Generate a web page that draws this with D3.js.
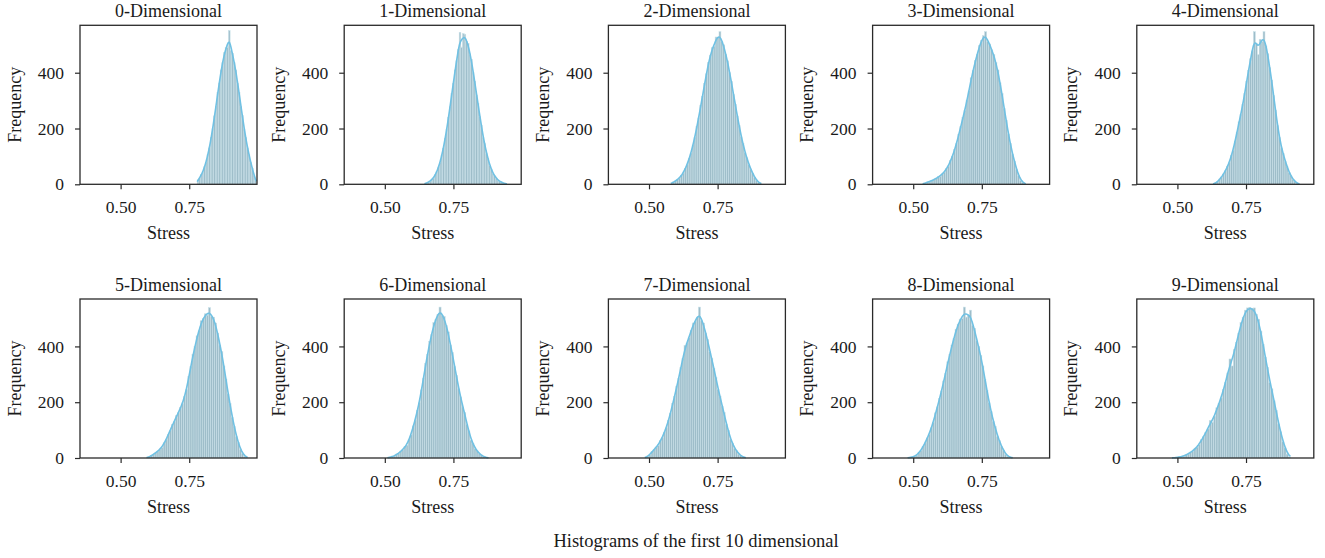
<!DOCTYPE html>
<html>
<head>
<meta charset="utf-8">
<script src="https://cdn.jsdelivr.net/npm/d3@7"></script>
<style>
  html, body { margin: 0; padding: 0; background: #ffffff; }
  svg text { font-family: "Liberation Serif", "Times New Roman", serif; fill: #1a1a1a; }
</style>
</head>
<body>
<svg id="chart" width="1325" height="558"></svg>
<script>
// Panel titles
const panelTitles = [
  "0-Dimensional", "1-Dimensional", "2-Dimensional", "3-Dimensional", "4-Dimensional",
  "5-Dimensional", "6-Dimensional", "7-Dimensional", "8-Dimensional", "9-Dimensional"
];

// Left edge of the first bin and bin width for each histogram
const binStarts = [0.779, 0.645, 0.580, 0.535, 0.630, 0.595, 0.510, 0.485, 0.480, 0.480];
const binWidths = [0.006, 0.006, 0.007, 0.0075, 0.007, 0.0075, 0.0075, 0.0075, 0.0075, 0.008];

// Bin counts (frequency of stress values) per dimension
const counts0 = [16, 22, 35, 43, 63, 79, 107, 130, 168, 199, 245, 280, 330, 363, 410, 436, 472, 490, 493, 551,
  480, 470, 436, 410, 362, 330, 280, 246, 198, 168, 130, 106, 78, 58, 32, 14];
const counts1 = [3, 5, 9, 11, 18, 22, 34, 45, 62, 78, 105, 129, 165, 196, 240, 278, 325, 362, 410, 443,
  483, 545, 492, 540, 538, 512, 505, 468, 448, 400, 370, 320, 290, 243, 212, 168, 146, 110, 93, 68,
  55, 38, 31, 21, 16, 10, 8, 5, 3, 2];
const counts2 = [5, 8, 12, 18, 22, 32, 40, 57, 70, 92, 112, 141, 168, 208, 238, 284, 315, 362, 396, 437,
  463, 490, 495, 528, 526, 547, 512, 500, 466, 443, 400, 369, 322, 287, 245, 210, 170, 146, 113, 95,
  70, 55, 40, 25, 14, 7, 3];
const counts3 = [3, 4, 9, 10, 13, 18, 20, 27, 29, 37, 43, 56, 64, 85, 100, 124, 146, 180, 207, 240,
  265, 302, 335, 382, 408, 444, 466, 498, 516, 533, 547, 512, 503, 482, 466, 436, 410, 364, 325, 272,
  230, 180, 146, 108, 83, 53, 31, 13, 6, 1];
const counts4 = [1, 5, 9, 19, 26, 37, 48, 64, 77, 103, 122, 155, 187, 224, 250, 287, 325, 370, 409, 450,
  478, 547, 505, 465, 520, 512, 547, 496, 468, 418, 374, 318, 266, 210, 168, 130, 110, 82, 65, 42,
  31, 18, 11, 4, 1];
const counts5 = [2, 4, 10, 13, 20, 24, 32, 37, 54, 65, 85, 98, 121, 130, 152, 162, 182, 194, 220, 245,
  293, 328, 372, 400, 438, 456, 492, 500, 517, 512, 539, 508, 505, 484, 448, 405, 382, 330, 283, 230,
  195, 146, 114, 77, 55, 30, 16, 6, 2];
const counts6 = [1, 3, 6, 7, 14, 17, 25, 29, 41, 46, 67, 83, 115, 136, 171, 198, 244, 286, 338, 372,
  418, 442, 486, 496, 515, 541, 512, 508, 475, 452, 405, 378, 328, 296, 248, 219, 183, 163, 121, 97,
  64, 52, 33, 26, 15, 11, 5, 2, 1];
const counts7 = [2, 5, 11, 24, 30, 39, 44, 62, 72, 92, 108, 135, 160, 195, 220, 258, 286, 324, 357, 404,
  412, 431, 458, 484, 490, 503, 541, 492, 484, 448, 425, 381, 358, 322, 288, 246, 222, 186, 163, 121,
  99, 67, 53, 34, 26, 14, 9, 3, 1];
const counts8 = [1, 2, 3, 7, 10, 18, 27, 41, 54, 72, 85, 108, 127, 162, 183, 214, 240, 276, 304, 345,
  372, 405, 428, 462, 480, 498, 500, 541, 505, 512, 530, 476, 465, 420, 400, 368, 330, 282, 243, 198,
  166, 131, 113, 77, 62, 41, 28, 13, 6, 2, 1];
const counts9 = [0, 1, 2, 4, 5, 6, 12, 14, 21, 24, 33, 39, 48, 66, 76, 92, 104, 135, 128, 150,
  180, 195, 215, 245, 270, 305, 355, 330, 390, 415, 448, 486, 505, 530, 538, 540, 536, 538, 515, 497,
  455, 408, 362, 325, 270, 248, 205, 170, 122, 94, 58, 36, 14, 3];

const allCounts = [counts0, counts1, counts2, counts3, counts4, counts5, counts6, counts7, counts8, counts9];

// Axis ticks and shared domains
const xTicks = [0.50, 0.75];
const yTicks = [0, 200, 400];
const xDomain = [0.352, 0.997];
const yDomain = [0, 570];

const captionText = "Histograms of the first 10 dimensional";

// ---- layout ----
const plotW = 177;
const colLefts = [80, 344.2, 608.4, 872.6, 1136.8];
const rowTops = [25.3, 299];
const plotH = 159;

const barFill = "#9ebdc9";
const barEdge = "#c9e1e9";
const kdeColor = "#70c1e3";
const frameColor = "#2a2a2a";

const svg = d3.select("#chart");

allCounts.forEach((counts, i) => {
  const row = Math.floor(i / 5), col = i % 5;
  const left = colLefts[col], top = rowTops[row];

  const x = d3.scaleLinear().domain(xDomain).range([left, left + plotW]);
  const y = d3.scaleLinear().domain(yDomain).range([top + plotH, top]);

  const g = svg.append("g");

  const bins = counts.map((c, j) => ({
    x0: binStarts[i] + j * binWidths[i],
    x1: binStarts[i] + (j + 1) * binWidths[i],
    count: c
  }));

  // histogram bars
  g.append("g")
    .selectAll("rect")
    .data(bins)
    .join("rect")
    .attr("x", d => x(d.x0))
    .attr("width", d => x(d.x1) - x(d.x0))
    .attr("y", d => y(d.count))
    .attr("height", d => y(0) - y(d.count))
    .attr("fill", barFill)
    .attr("stroke", barEdge)
    .attr("stroke-width", 0.55);

  // Gaussian kernel density estimate of the binned values, scaled to counts
  const centers = bins.map(b => (b.x0 + b.x1) / 2);
  const total = d3.sum(counts);
  const mean = d3.sum(centers.map((m, j) => m * counts[j])) / total;
  const sd = Math.sqrt(d3.sum(centers.map((m, j) => counts[j] * (m - mean) ** 2)) / total);
  const bw = sd * Math.pow(total, -0.2);
  const lo = bins[0].x0, hi = bins[bins.length - 1].x1;
  const grid = d3.range(lo, hi + 1e-9, (hi - lo) / 160);
  const kde = grid.map(v => {
    let s = 0;
    centers.forEach((m, j) => {
      const z = (v - m) / bw;
      s += counts[j] * Math.exp(-0.5 * z * z);
    });
    return [v, s * binWidths[i] / (bw * Math.sqrt(2 * Math.PI))];
  });

  g.append("path")
    .datum(kde)
    .attr("fill", "none")
    .attr("stroke", kdeColor)
    .attr("stroke-width", 1.6)
    .attr("d", d3.line().x(d => x(d[0])).y(d => y(d[1])).curve(d3.curveBasis));

  // axes
  const xAxis = g.append("g")
    .attr("transform", `translate(0,${top + plotH})`)
    .call(d3.axisBottom(x).tickValues(xTicks).tickFormat(d3.format(".2f")).tickSize(5).tickPadding(11.5));
  const yAxis = g.append("g")
    .attr("transform", `translate(${left},0)`)
    .call(d3.axisLeft(y).tickValues(yTicks).tickSize(5).tickPadding(11));

  [xAxis, yAxis].forEach(a => {
    a.select(".domain").remove();
    a.selectAll(".tick line").attr("stroke", frameColor).attr("stroke-width", 1.2);
    a.selectAll(".tick text")
      .attr("font-family", "Liberation Serif, Times New Roman, serif")
      .attr("font-size", 17.5)
      .attr("fill", "#1a1a1a");
  });

  // frame
  g.append("rect")
    .attr("x", left).attr("y", top)
    .attr("width", plotW).attr("height", plotH)
    .attr("fill", "none")
    .attr("stroke", frameColor)
    .attr("stroke-width", 1.3);

  // title
  g.append("text")
    .attr("x", left + plotW / 2)
    .attr("y", top - 8.5)
    .attr("text-anchor", "middle")
    .attr("font-size", 18)
    .text(panelTitles[i]);

  // axis labels
  g.append("text")
    .attr("x", left + plotW / 2)
    .attr("y", top + plotH + 55)
    .attr("text-anchor", "middle")
    .attr("font-size", 18)
    .text("Stress");

  g.append("text")
    .attr("transform", `translate(${left - 59.5},${top + plotH / 2}) rotate(-90)`)
    .attr("text-anchor", "middle")
    .attr("font-size", 18)
    .text("Frequency");
});

svg.append("text")
  .attr("x", 696)
  .attr("y", 547)
  .attr("text-anchor", "middle")
  .attr("font-size", 18.5)
  .text(captionText);
</script>
</body>
</html>
